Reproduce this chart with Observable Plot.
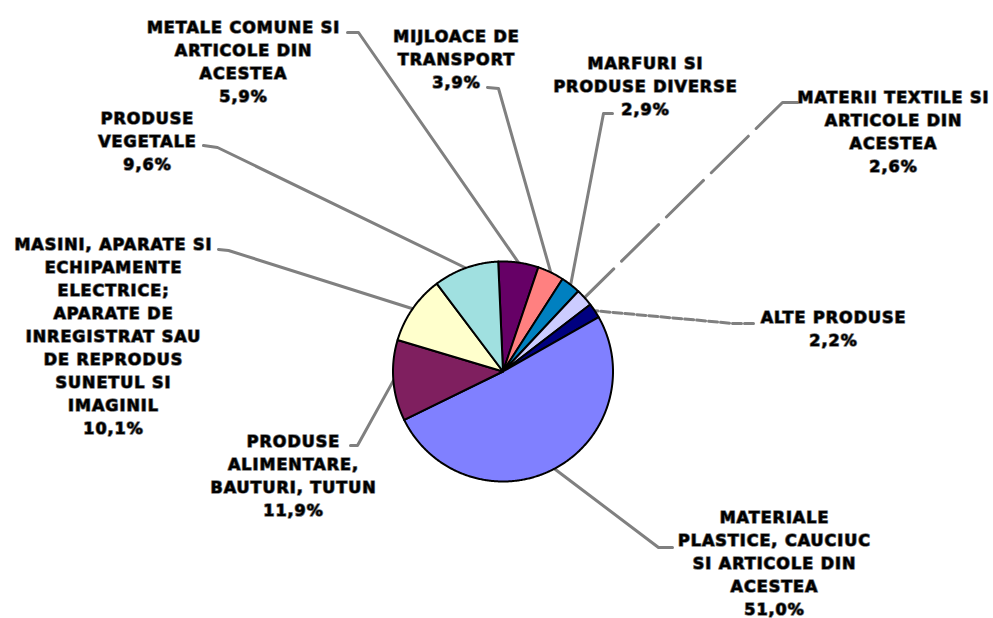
<!DOCTYPE html>
<html><head><meta charset="utf-8">
<script src="https://cdn.jsdelivr.net/npm/d3@7"></script>
<script src="https://cdn.jsdelivr.net/npm/@observablehq/plot@0.6"></script>
<style>body{margin:0;background:#fff}</style>
</head><body><div id="chart"></div>
<script>
// ---- data ----
const categories = [
  "METALE COMUNE SI ARTICOLE DIN ACESTEA",
  "MIJLOACE DE TRANSPORT",
  "MARFURI SI PRODUSE DIVERSE",
  "MATERII TEXTILE SI ARTICOLE DIN ACESTEA",
  "ALTE PRODUSE",
  "MATERIALE PLASTICE, CAUCIUC SI ARTICOLE DIN ACESTEA",
  "PRODUSE ALIMENTARE, BAUTURI, TUTUN",
  "MASINI, APARATE SI ECHIPAMENTE ELECTRICE; APARATE DE INREGISTRAT SAU DE REPRODUS SUNETUL SI IMAGINIL",
  "PRODUSE VEGETALE"
];
const labelLines = [
  ["METALE COMUNE SI", "ARTICOLE DIN", "ACESTEA"],
  ["MIJLOACE DE", "TRANSPORT"],
  ["MARFURI SI", "PRODUSE DIVERSE"],
  ["MATERII TEXTILE SI", "ARTICOLE DIN", "ACESTEA"],
  ["ALTE PRODUSE"],
  ["MATERIALE", "PLASTICE, CAUCIUC", "SI ARTICOLE DIN", "ACESTEA"],
  ["PRODUSE", "ALIMENTARE,", "BAUTURI, TUTUN"],
  ["MASINI, APARATE SI", "ECHIPAMENTE", "ELECTRICE;", "APARATE DE", "INREGISTRAT SAU", "DE REPRODUS", "SUNETUL SI", "IMAGINIL"],
  ["PRODUSE", "VEGETALE"]
];
const values = [5.9, 3.9, 2.9, 2.6, 2.2, 51.0, 11.9, 10.1, 9.6];
const valueLabels = ["5,9%", "3,9%", "2,9%", "2,6%", "2,2%", "51,0%", "11,9%", "10,1%", "9,6%"];
const colors = ["#660066", "#FF8080", "#0080C0", "#CCCCFF", "#000080", "#8080FF", "#7F1F5F", "#FFFFCC", "#A0E0E0"];

// ---- layout (pixels) ----
const pieLayout = {cx: 502.5, cy: 371, r: 110, startDeg: -2.5};
const labelLayout = [
  {x: 243, y: 60,  leader: [[347, 32], [358, 32]], dash: null},
  {x: 456, y: 57.5, leader: [[487, 87], [498, 88]], dash: null},
  {x: 645, y: 84.5, leader: [[612, 113], [603, 113]], dash: null},
  {x: 893, y: 130, leader: [[797, 102], [782, 102]], dash: "52,11"},
  {x: 833, y: 327, leader: [[753, 323], [733, 323]], dash: "9,3"},
  {x: 774, y: 561, leader: [[672, 547], [658, 547]], dash: null},
  {x: 293, y: 473.5, leader: [[350, 445], [357, 445]], dash: null},
  {x: 113, y: 334, leader: [[218, 249], [228, 250]], dash: null},
  {x: 147, y: 139, leader: [[203, 145], [217, 147]], dash: null}
];

// ---- build tables ----
const rows = categories.map((c, i) => ({name: c, value: values[i]}));
const a0 = pieLayout.startDeg * Math.PI / 180;
const arcs = d3.pie().sort(null).value(d => d.value).startAngle(a0).endAngle(a0 + 2 * Math.PI)(rows);
const pt = (a, r) => [pieLayout.cx + r * Math.sin(a), pieLayout.cy - r * Math.cos(a)];

const slicePts = [];
arcs.forEach(a => {
  const name = a.data.name;
  slicePts.push({name, x: pieLayout.cx, y: pieLayout.cy});
  const n = Math.max(4, Math.ceil((a.endAngle - a.startAngle) / (Math.PI / 360)));
  for (let k = 0; k <= n; k++) {
    const ang = a.startAngle + (a.endAngle - a.startAngle) * k / n;
    const [x, y] = pt(ang, pieLayout.r);
    slicePts.push({name, x, y});
  }
  slicePts.push({name, x: pieLayout.cx, y: pieLayout.cy});
});

const leaderPts = [];
const textRows = [];
arcs.forEach((a, i) => {
  const L = labelLayout[i];
  const mid = (a.startAngle + a.endAngle) / 2;
  const [px, py] = pt(mid, pieLayout.r);
  const name = a.data.name;
  leaderPts.push({name, dash: L.dash, x: L.leader[0][0], y: L.leader[0][1]});
  leaderPts.push({name, dash: L.dash, x: L.leader[1][0], y: L.leader[1][1]});
  leaderPts.push({name, dash: L.dash, x: px, y: py});
  textRows.push({x: L.x, y: L.y, text: [...labelLines[i], valueLabels[i]].join("\n")});
});

const leaderMark = (dash) => Plot.line(leaderPts.filter(d => d.dash === dash), {
  x: "x", y: "y", z: "name", stroke: "#808080", strokeWidth: 3,
  strokeDasharray: dash || undefined, curve: "linear"
});

const chart = Plot.plot({
  width: 993, height: 618,
  margin: 0,
  x: {domain: [0, 993], range: [0, 993], axis: null},
  y: {domain: [0, 618], range: [0, 618], axis: null},
  color: {domain: categories, range: colors},
  style: {fontFamily: "DejaVu Sans", letterSpacing: "1px", background: "#fff"},
  marks: [
    leaderMark(null),
    leaderMark("52,11"),
    leaderMark("9,3"),
    Plot.line(slicePts, {x: "x", y: "y", z: "name", fill: "name", stroke: "#000", strokeWidth: 2, strokeLinejoin: "round"}),
    Plot.text(textRows, {
      x: "x", y: "y", text: "text", lineAnchor: "middle", lineHeight: 1.44,
      fontSize: 16, fontWeight: "bold", fontFamily: "DejaVu Sans",
      fill: "#000", stroke: "#555", strokeWidth: 1.6, strokeOpacity: 0.8, paintOrder: "stroke"
    })
  ]
});
document.getElementById("chart").appendChild(chart);
</script>
</body></html>
